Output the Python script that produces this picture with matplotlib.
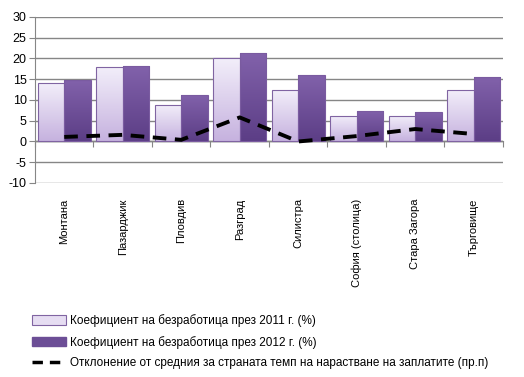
import matplotlib.pyplot as plt
import numpy as np
from matplotlib.colors import LinearSegmentedColormap
from matplotlib.patches import Patch
from matplotlib.lines import Line2D

regions = ['Монтана', 'Пазарджик', 'Пловдив', 'Разград', 'Силистра',
           'София (столица)', 'Стара Загора', 'Търговище']
rate_2011 = [14.0, 17.9, 8.7, 20.0, 12.4, 6.1, 6.1, 12.4]
rate_2012 = [14.8, 18.2, 11.1, 21.3, 16.0, 7.3, 7.1, 15.5]
wage_dev = [1.1, 1.6, 0.4, 5.8, 0.0, 1.3, 3.0, 1.8]

lbl_2011 = 'Коефициент на безработица през 2011 г. (%)'
lbl_2012 = 'Коефициент на безработица през 2012 г. (%)'
lbl_dev = 'Отклонение от средния за страната темп на нарастване на заплатите (пр.п)'

plt.rcParams['font.family'] = ['Liberation Sans', 'DejaVu Sans']
plt.rcParams['axes.unicode_minus'] = False

fig = plt.figure(figsize=(5.24, 3.77), dpi=100)
ax = fig.add_axes([0.0668, 0.5146, 0.893, 0.4404])

x = np.arange(len(regions))
w = 0.455
cm1 = LinearSegmentedColormap.from_list('c1', ['#c6b2df', '#f3effa'])
cm2 = LinearSegmentedColormap.from_list('c2', ['#5c3e86', '#8262ab'])
grad = np.linspace(0, 1, 100).reshape(-1, 1)

b1 = ax.bar(x - w / 2, rate_2011, w, color='none', edgecolor='#8064a2', linewidth=0.8, zorder=3)
b2 = ax.bar(x + w / 2, rate_2012, w, color='none', edgecolor='#7a5ba0', linewidth=0.8, zorder=3)
for bars, cm in ((b1, cm1), (b2, cm2)):
    for b in bars:
        bx, by = b.get_x(), b.get_y()
        bw, bh = b.get_width(), b.get_height()
        im = ax.imshow(grad, cmap=cm, origin='lower', aspect='auto',
                       extent=(bx, bx + bw, by, by + bh), zorder=2)
        im.set_clip_path(b)

ax.plot(x, wage_dev, color='black', linestyle=(0, (3.5, 2.2)), linewidth=2.8, zorder=4)

ax.set_xlim(-0.5, len(regions) - 0.5)
ax.set_ylim(-10, 30)
ax.set_yticks(range(-10, 31, 5))
ax.yaxis.grid(True, color='#868686', linewidth=1)
ax.set_axisbelow(True)
for s in ('top', 'right', 'bottom'):
    ax.spines[s].set_visible(False)
ax.spines['left'].set_color('#868686')
ax.tick_params(axis='y', length=4, color='#868686', labelsize=9, pad=2)

ax.set_xticks(x)
ax.set_xticklabels(regions, rotation=90, va='top', fontsize=8)
ax.tick_params(axis='x', length=0, pad=11)

# category axis drawn at zero with tick marks at the boundaries
sec = ax.secondary_xaxis(0.25)
sec.set_xticks(np.arange(len(regions) + 1) - 0.5)
sec.set_xticklabels([])
sec.tick_params(length=4, color='#868686')
sec.spines['bottom'].set_color('#868686')
ax.axhline(0, color='#868686', linewidth=1, zorder=1)

handles = [Patch(facecolor='#e6ddf2', edgecolor='#8064a2', linewidth=0.8),
           Patch(facecolor='#6c4e96', edgecolor='#6c4e96'),
           Line2D([], [], color='black', linestyle=(0, (3, 2)), linewidth=2.5)]
fig.legend(handles, [lbl_2011, lbl_2012, lbl_dev], loc='upper left',
           bbox_to_anchor=(0.052, 0.18), frameon=False, fontsize=8.5,
           handlelength=2.9, handleheight=0.9, handletextpad=0.3, labelspacing=0.75,
           borderaxespad=0)

fig.savefig('out.png', dpi=100)
